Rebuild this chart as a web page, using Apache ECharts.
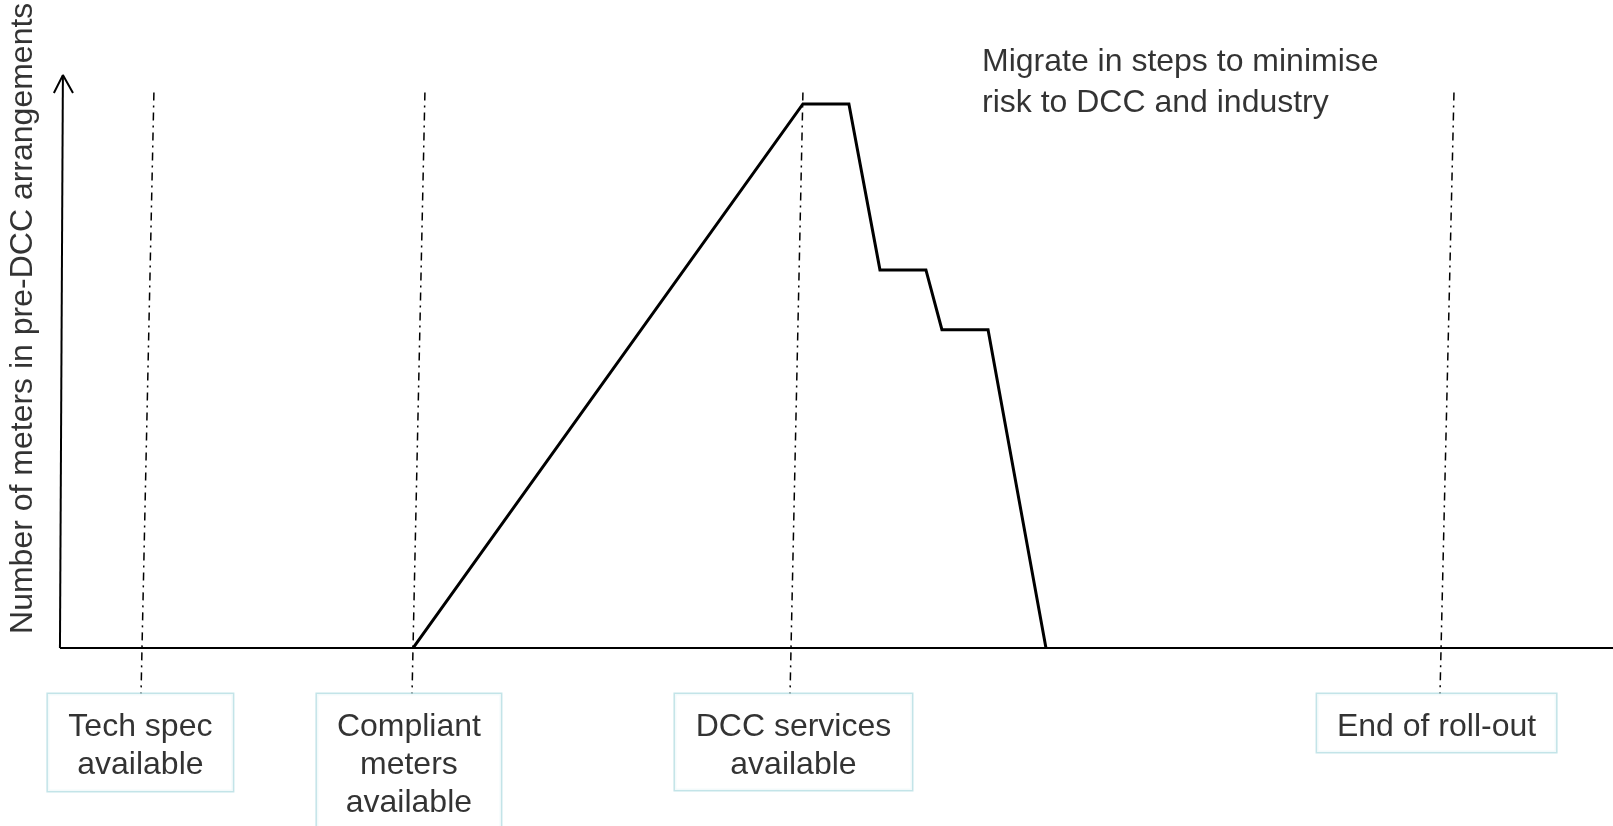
<!DOCTYPE html>
<html>
<head>
<meta charset="utf-8">
<script src="https://cdn.jsdelivr.net/npm/echarts@6/dist/echarts.min.js"></script>
<style>
html,body{margin:0;padding:0;background:#fff;}
#chart{width:1613px;height:826px;}
</style>
</head>
<body>
<div id="chart"></div>
<script>
// ---- data (abstract units: x = roll-out timeline 0..100, y = meters, peak = 100) ----
const profileX = [22.73, 47.84, 50.80, 52.80, 55.76, 56.79, 59.76, 63.49];
const profileY = [0, 100, 100, 69.5, 69.5, 58.5, 58.5, 0];

const milestoneNames = ['Tech spec\navailable', 'Compliant\nmeters\navailable', 'DCC services\navailable', 'End of roll-out'];
const milestoneTopX = [6.05, 23.50, 47.84, 89.76];
const milestoneBottomX = [5.22, 22.67, 47.01, 88.86];

const yAxisTitle = 'Number of meters in pre-DCC arrangements';
const noteText = 'Migrate in steps to minimise\nrisk to DCC and industry';

// ---- layout ----
const X_MIN = -3.86, X_MAX = 100, Y_MIN = -32.7, Y_MAX = 119.1;
const lineTopY = 102.1, boxTopY = -8.45;
const boxCenterX = [5.18, 22.47, 47.23, 88.64];
const boxW = [185, 184, 237, 239];
const boxPad = [[14, 0, 7, 0], [14, 0, 10, 0], [14, 0, 6, 0], [14, 0, 6, 0]];
const FONT = 'Liberation Sans, Arial, sans-serif';
const FS = 32;

const series = [];

// profile
series.push({
  type: 'line', data: profileX.map((x, i) => [x, profileY[i]]),
  symbol: 'none', lineStyle: { color: '#000', width: 3, join: 'miter' }, z: 5
});
// x axis line
series.push({
  type: 'line', data: [[0, 0], [X_MAX, 0]], symbol: 'none',
  lineStyle: { color: '#000', width: 2 }, z: 4
});
// y axis line
series.push({
  type: 'line', data: [[0, 0], [0.19, 105.3]], symbol: 'none',
  lineStyle: { color: '#000', width: 2 }, z: 4
});
// arrow head
series.push({
  type: 'line', data: [[-0.39, 102.0], [0.19, 105.3], [0.84, 102.0]], symbol: 'none',
  lineStyle: { color: '#000', width: 2 }, z: 4
});
// milestone dash-dot lines
milestoneTopX.forEach((tx, i) => {
  series.push({
    type: 'line', data: [[tx, lineTopY], [milestoneBottomX[i], boxTopY]], symbol: 'none',
    lineStyle: { color: '#000', width: 1.5, type: [8, 5, 2, 5] }, z: 3
  });
});
// milestone boxes
series.push({
  type: 'scatter', symbolSize: 0, z: 6,
  data: milestoneNames.map((n, i) => ({
    value: [boxCenterX[i], boxTopY], name: n,
    label: { width: boxW[i], padding: boxPad[i] }
  })),
  label: {
    show: true, position: 'bottom', distance: 0,
    formatter: p => p.name,
    fontFamily: FONT, fontSize: FS, color: '#000', lineHeight: 38, align: 'center',
    borderColor: '#B4DDE2', borderWidth: 1.5, backgroundColor: '#fff'
  }
});
// note text
series.push({
  type: 'scatter', symbolSize: 0, z: 6,
  data: [{ value: [59.37, 111.5], name: noteText }],
  label: {
    show: true, position: 'bottom', distance: 0, align: 'left',
    formatter: p => p.name,
    fontFamily: FONT, fontSize: FS, color: '#000', lineHeight: 41
  }
});
// y axis title
series.push({
  type: 'scatter', symbolSize: 0, z: 6,
  data: [{ value: [-2.38, 60.6], name: yAxisTitle }],
  label: {
    show: true, position: 'inside', rotate: 90,
    formatter: p => p.name,
    fontFamily: FONT, fontSize: FS, color: '#000'
  }
});

const chart = echarts.init(document.getElementById('chart'));
chart.setOption({
  animation: false,
  backgroundColor: '#fff',
  grid: { left: 0, right: 0, top: 0, bottom: 0 },
  xAxis: { type: 'value', min: X_MIN, max: X_MAX, show: false },
  yAxis: { type: 'value', min: Y_MIN, max: Y_MAX, show: false },
  tooltip: { show: false },
  series: series
});
</script>
</body>
</html>
